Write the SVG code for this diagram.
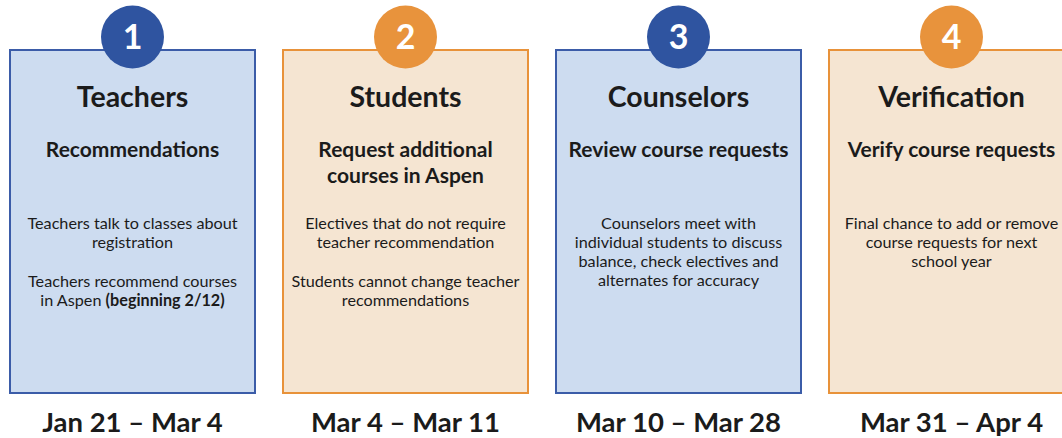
<svg xmlns="http://www.w3.org/2000/svg" width="1062" height="438" viewBox="0 0 1062 438">
<style>
text{font-family:Lato,"Open Sans","Liberation Sans",sans-serif;fill:#1b1b1b;text-anchor:middle}
.blue rect{fill:#cddcf0;stroke:#3b5ca8;stroke-width:2}
.blue circle{fill:#2f54a0}
.orange rect{fill:#f5e5d2;stroke:#e8923a;stroke-width:2}
.orange circle{fill:#e8933c}
.num{font-size:34px;font-weight:700;fill:#fff}
.title{font-size:28.5px;font-weight:700}
.sub{font-size:21px;font-weight:700}
.body{font-size:16.2px}
.date{font-size:27.5px;font-weight:700}
</style>
<rect width="1062" height="438" fill="#fff"/>
<g id="connectors"></g>
<g id="step1" class="blue">
<rect x="10" y="50" width="245" height="343"/>
<circle cx="132.5" cy="37" r="31.5"/>
<text class="num" x="132.5" y="49">1</text>
<text class="title" x="132.5" y="107">Teachers</text>
<text class="sub" x="132.5" y="157">Recommendations</text>
<text class="body" x="132.5" y="229">Teachers talk to classes about</text>
<text class="body" x="132.5" y="248">registration</text>
<text class="body" x="132.5" y="287">Teachers recommend courses</text>
<text class="body" x="132.5" y="306">in Aspen <tspan font-weight="700">(beginning 2/12)</tspan></text>
<text class="date" x="132.5" y="432">Jan 21 – Mar 4</text>
</g>
<g id="step2" class="orange">
<rect x="283" y="50" width="245" height="343"/>
<circle cx="405.5" cy="37" r="31.5"/>
<text class="num" x="405.5" y="49">2</text>
<text class="title" x="405.5" y="107">Students</text>
<text class="sub" x="405.5" y="157">Request additional</text>
<text class="sub" x="405.5" y="183">courses in Aspen</text>
<text class="body" x="405.5" y="229">Electives that do not require</text>
<text class="body" x="405.5" y="248">teacher recommendation</text>
<text class="body" x="405.5" y="287">Students cannot change teacher</text>
<text class="body" x="405.5" y="306">recommendations</text>
<text class="date" x="405.5" y="432">Mar 4 – Mar 11</text>
</g>
<g id="step3" class="blue">
<rect x="556" y="50" width="245" height="343"/>
<circle cx="678.5" cy="37" r="31.5"/>
<text class="num" x="678.5" y="49">3</text>
<text class="title" x="678.5" y="107">Counselors</text>
<text class="sub" x="678.5" y="157">Review course requests</text>
<text class="body" x="678.5" y="229">Counselors meet with</text>
<text class="body" x="678.5" y="248">individual students to discuss</text>
<text class="body" x="678.5" y="267">balance, check electives and</text>
<text class="body" x="678.5" y="286">alternates for accuracy</text>
<text class="date" x="678.5" y="432">Mar 10 – Mar 28</text>
</g>
<g id="step4" class="orange">
<rect x="829" y="50" width="245" height="343"/>
<circle cx="951.5" cy="37" r="31.5"/>
<text class="num" x="951.5" y="49">4</text>
<text class="title" x="951.5" y="107">Verification</text>
<text class="sub" x="951.5" y="157">Verify course requests</text>
<text class="body" x="951.5" y="229">Final chance to add or remove</text>
<text class="body" x="951.5" y="248">course requests for next</text>
<text class="body" x="951.5" y="267">school year</text>
<text class="date" x="951.5" y="432">Mar 31 – Apr 4</text>
</g>
</svg>
